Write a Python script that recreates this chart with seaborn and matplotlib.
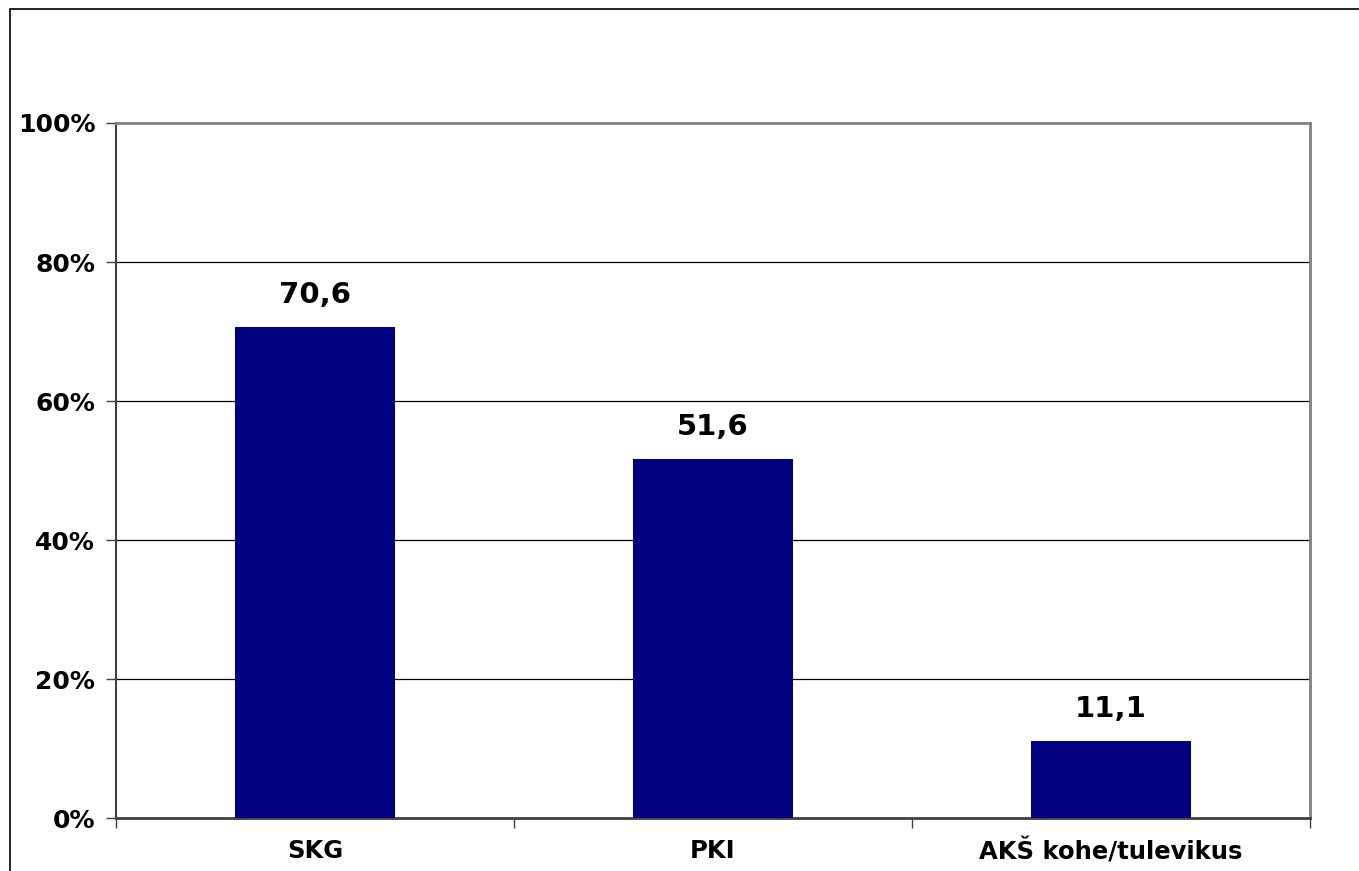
import matplotlib
matplotlib.use("Agg")
import matplotlib.pyplot as plt
from matplotlib.patches import Rectangle
from matplotlib.ticker import FixedLocator
import seaborn as sns
import pandas as pd

categories = ["SKG", "PKI", "AKŠ kohe/tulevikus"]
values = [70.6, 51.6, 11.1]
value_labels = ["70,6", "51,6", "11,1"]
y_ticks = [0, 20, 40, 60, 80, 100]
y_tick_labels = ["0%", "20%", "40%", "60%", "80%", "100%"]

sns.set_theme(style="white")
plt.rcParams["font.family"] = ["DejaVu Sans"]
plt.rcParams["font.weight"] = "bold"

df = pd.DataFrame({"category": categories, "value": values})

fig = plt.figure(figsize=(13.59, 8.71), dpi=100)
ax = fig.add_axes([116 / 1359, 53 / 871, 1194 / 1359, 695 / 871])

# outer chart frame
fig.patches.append(Rectangle((10 / 1359, -0.1), 1.2, 0.1 + (871 - 9) / 871,
                             transform=fig.transFigure, fill=False,
                             edgecolor="black", linewidth=1.2, zorder=0))

sns.barplot(data=df, x="category", y="value", color="#000080",
            width=0.4, saturation=1, linewidth=0, ax=ax, zorder=3)

ax.set_ylim(0, 100)
ax.set_xlim(-0.5, 2.5)
ax.set_yticks(y_ticks)
ax.set_yticklabels(y_tick_labels, fontsize=18, fontweight="bold", color="black")
ax.set_xticks(range(len(categories)))
ax.set_xticklabels(categories, fontsize=17.5, fontweight="bold", color="black")
ax.tick_params(axis="x", length=0, pad=15)
ax.tick_params(axis="y", length=7, width=1, color="#404040", direction="out",
               left=True, pad=8)
ax.xaxis.set_minor_locator(FixedLocator([-0.5, 0.5, 1.5, 2.5]))
ax.tick_params(axis="x", which="minor", length=7, width=1, color="#404040",
               direction="out", bottom=True)

for y in y_ticks[1:-1]:
    ax.axhline(y, color="black", linewidth=0.9, zorder=1)

for s in ["top", "right"]:
    ax.spines[s].set_color("#808080")
    ax.spines[s].set_linewidth(2)
ax.spines["left"].set_color("#404040")
ax.spines["left"].set_linewidth(1.5)
ax.spines["bottom"].set_color("#404040")
ax.spines["bottom"].set_linewidth(2)

ax.set_xlabel("")
ax.set_ylabel("")

for i, (v, lab) in enumerate(zip(values, value_labels)):
    ax.text(i, v + 2.6, lab, ha="center", va="bottom", fontsize=21,
            fontweight="bold", color="black")

fig.savefig("out.png", dpi=100, facecolor="white")
